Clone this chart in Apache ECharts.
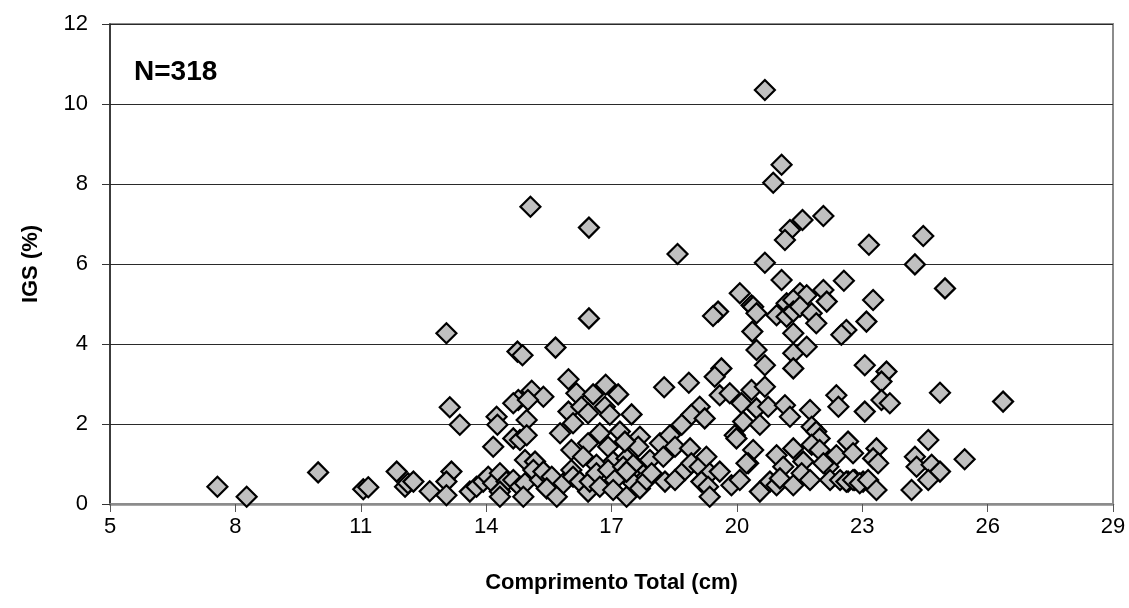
<!DOCTYPE html>
<html><head><meta charset="utf-8">
<script src="https://cdn.jsdelivr.net/npm/echarts@6/dist/echarts.min.js"></script>
<style>html,body{margin:0;padding:0;background:#fff}#c{width:1129px;height:608px}</style>
</head><body><div id="c"></div>
<script>
var xTicks = [5, 8, 11, 14, 17, 20, 23, 26, 29];
var yTicks = [0, 2, 4, 6, 8, 10, 12];
var xTitle = 'Comprimento Total (cm)';
var yTitle = 'IGS (%)';
var nLabel = 'N=318';

// Comprimento Total (cm) and IGS (%)
var lowPts = [[7.57,0.43],[8.27,0.18],[9.98,0.79],[11.06,0.37],[11.18,0.42],[11.86,0.81],[12.06,0.43],[12.13,0.52],[12.26,0.56],[12.65,0.32]];
var midPts = [[13.05,4.27],[13.13,2.42],[13.37,1.98],[16.46,4.64],[14.75,3.81],[14.87,3.72],[15.66,3.91],[15.97,3.12],[16.16,2.77],[16.56,2.74],[16.86,2.98],[17.16,2.74],[15.09,2.83],[15.37,2.68],[14.77,2.6],[14.65,2.52],[15.0,2.6],[15.97,2.31],[16.28,2.43],[16.44,2.27],[16.84,2.43],[16.96,2.23],[17.48,2.24],[14.25,2.18],[14.27,1.98],[14.97,2.1],[16.08,2.02],[15.77,1.77],[14.65,1.64],[14.81,1.6],[14.97,1.72],[14.17,1.43],[16.04,1.35],[16.44,1.52],[16.72,1.77],[16.92,1.43],[17.2,1.81],[17.68,1.68],[17.64,1.43],[16.32,1.18],[16.64,0.98],[17.04,1.06],[17.36,1.14],[17.6,0.93],[17.76,0.73],[13.17,0.81],[13.05,0.56],[13.05,0.22],[13.61,0.31],[13.77,0.43],[13.93,0.56],[14.05,0.68],[14.17,0.52],[14.33,0.77],[14.49,0.56],[14.33,0.31],[14.33,0.18],[14.65,0.6],[14.81,0.43],[14.93,0.52],[14.93,1.1],[15.17,1.06],[15.13,0.85],[14.89,0.18],[15.29,0.6],[15.37,0.81],[15.57,0.68],[15.45,0.39],[15.69,0.18],[15.85,0.52],[16.04,0.85],[16.08,0.68],[16.24,0.56],[16.44,0.31],[16.48,0.56],[16.64,0.77],[16.72,0.43],[16.92,0.85],[17.08,0.6],[17.04,0.35],[17.28,0.93],[17.44,0.77],[17.52,0.52],[17.36,0.18],[17.68,0.39],[17.84,0.6]];
var highPts = [[15.06,7.43],[16.46,6.91],[18.58,6.25],[20.67,10.35],[21.07,8.48],[20.87,8.03],[22.07,7.2],[21.57,7.1],[21.27,6.85],[21.15,6.6],[23.16,6.48],[24.46,6.7],[24.26,5.99],[20.67,6.03],[21.07,5.6],[22.56,5.58],[20.07,5.27],[24.98,5.39],[23.26,5.1],[21.51,5.27],[21.67,5.22],[22.07,5.35],[21.19,5.02],[21.35,5.1],[20.35,4.97],[22.15,5.06]];
var rightPts = [[19.55,4.81],[19.43,4.7],[20.39,4.93],[20.47,4.77],[20.95,4.72],[21.19,4.68],[21.35,4.81],[21.51,4.93],[21.79,4.77],[21.9,4.52],[22.62,4.35],[22.5,4.23],[23.1,4.56],[20.37,4.31],[21.35,4.27],[20.47,3.85],[21.35,3.77],[21.67,3.93],[20.67,3.47],[21.35,3.39],[23.06,3.47],[19.63,3.39],[19.47,3.18],[18.26,2.92],[18.85,3.03],[19.59,2.72],[19.83,2.77],[20.35,2.85],[20.67,2.93],[20.11,2.52],[20.47,2.39],[20.75,2.43],[21.15,2.47],[21.27,2.18],[21.75,2.35],[22.38,2.72],[22.43,2.43],[23.06,2.31],[19.11,2.43],[18.91,2.23],[19.23,2.14],[18.68,1.98],[20.15,2.06],[20.55,1.98],[19.95,1.72],[19.99,1.64],[17.32,1.56],[18.16,1.52],[18.4,1.72],[18.52,1.43],[18.88,1.39],[21.79,1.93],[21.9,1.81],[21.98,1.64],[21.35,1.39],[21.59,1.06],[20.39,1.35],[20.95,1.22],[21.11,0.93],[20.27,1.02],[22.38,1.22],[22.19,0.93],[22.66,1.56],[22.78,1.27],[21.79,1.48],[21.98,1.35],[17.52,0.98],[17.36,0.81],[17.92,1.1],[18.24,1.18],[17.96,0.77],[18.28,0.56],[18.52,0.6],[18.76,0.85],[18.91,1.02],[19.11,0.93],[19.27,1.18],[19.35,0.77],[19.15,0.56],[19.31,0.43],[19.35,0.18],[19.59,0.81],[19.87,0.47],[20.07,0.6],[20.23,1.02],[20.55,0.31],[20.79,0.56],[20.95,0.47],[21.03,0.64],[21.35,0.47],[21.55,0.77],[21.75,0.6],[22.07,1.02],[22.23,0.6],[22.47,0.6],[22.66,0.56],[22.82,0.6],[23.02,0.56]];
var farPts = [[23.58,3.31],[23.46,3.06],[23.46,2.6],[23.66,2.52],[24.86,2.78],[26.37,2.56],[23.34,1.39],[23.26,1.14],[23.38,1.02],[24.58,1.6],[24.26,1.18],[24.3,0.93],[24.66,0.98],[24.86,0.81],[24.58,0.6],[24.18,0.35],[25.45,1.12],[22.62,0.56],[22.78,0.6],[22.94,0.52],[23.14,0.6],[23.34,0.35]];

var allPts = [].concat(lowPts, midPts, highPts, rightPts, farPts);

var chart = echarts.init(document.getElementById('c'), null, {renderer: 'canvas'});
var FONT = '"Liberation Sans", Arial, sans-serif';
chart.setOption({
  backgroundColor: '#fff',
  animation: false,
  grid: {left: 110, top: 24, width: 1003, height: 480, show: true, borderColor: '#8c8c8c', borderWidth: 2, backgroundColor: '#fff'},
  xAxis: {
    type: 'value', min: xTicks[0], max: xTicks[xTicks.length-1], interval: 3,
    name: xTitle, nameLocation: 'middle', nameGap: 68,
    nameTextStyle: {fontFamily: FONT, fontSize: 22, fontWeight: 'bold', color: '#000'},
    axisLine: {show: true, onZero: false, lineStyle: {color: '#8c8c8c', width: 2.5}},
    axisTick: {show: true, inside: false, length: 8, lineStyle: {color: '#555', width: 1}},
    axisLabel: {fontFamily: FONT, fontSize: 22, color: '#000', margin: 12},
    splitLine: {show: false}
  },
  yAxis: {
    type: 'value', min: yTicks[0], max: yTicks[yTicks.length-1], interval: 2,
    name: yTitle, nameLocation: 'middle', nameGap: 68, nameRotate: 90,
    nameTextStyle: {fontFamily: FONT, fontSize: 22, fontWeight: 'bold', color: '#000'},
    axisLine: {show: true, onZero: false, lineStyle: {color: '#222', width: 1.5}},
    axisTick: {show: true, inside: false, length: 8, lineStyle: {color: '#333', width: 1}},
    axisLabel: {fontFamily: FONT, fontSize: 22, color: '#000', margin: 22},
    splitLine: {show: true, lineStyle: {color: '#2a2a2a', width: 1.2}}
  },
  graphic: [{
    type: 'text', left: 134, top: 58,
    style: {text: nLabel, font: 'bold 28px ' + FONT, fill: '#000'}
  }],
  series: [{
    type: 'scatter', data: allPts, symbol: 'diamond', symbolSize: [20, 20],
    itemStyle: {color: '#c0c0c0', borderColor: '#000', borderWidth: 2.2, opacity: 1}
  }]
});
</script></body></html>
